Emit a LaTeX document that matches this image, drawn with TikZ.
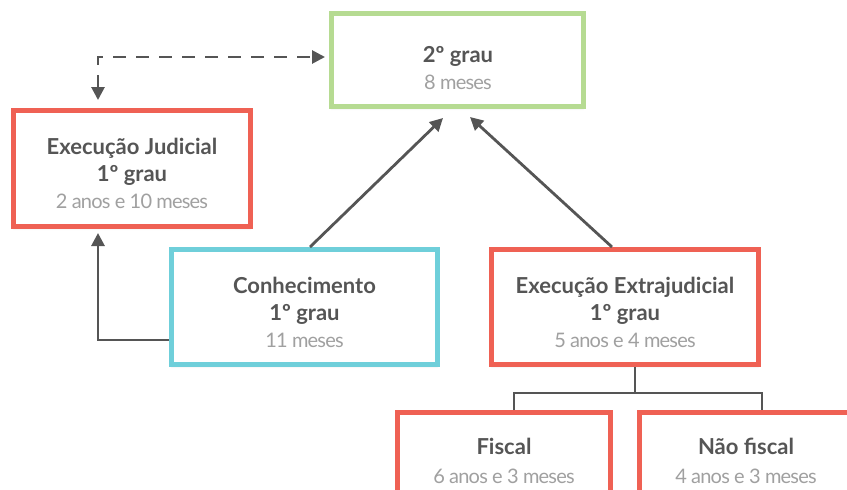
\documentclass[tikz,border=0pt]{standalone}
\usepackage{fontspec}
\setmainfont{Lato}
\newfontfamily\lightfont{Lato}[LetterSpace=-4]
\usetikzlibrary{arrows.meta,calc,shadows.blur}
\definecolor{cred}{HTML}{EF6154}
\definecolor{cgreen}{HTML}{B6DB92}
\definecolor{ccyan}{HTML}{6FCFDA}
\definecolor{ctext}{HTML}{555555}
\definecolor{clight}{HTML}{A0A0A0}
\definecolor{cline}{HTML}{555555}
\tikzset{
  box/.style={draw=#1, line width=5pt, fill=white, rectangle, inner sep=0pt,
    blur shadow={shadow xshift=0pt, shadow yshift=-2pt, shadow opacity=12, shadow blur steps=6}},
  txt/.style={align=center, text=ctext, font=\fontsize{22}{27}\selectfont\bfseries, inner sep=0pt},
  txtb/.style={txt, font=\fontsize{22}{29}\selectfont\bfseries},
  arr/.style={draw=cline, line width=2.8pt, -{Triangle[length=13pt,width=13pt]}},
  dasharr/.style={draw=cline, line width=2.8pt, dash pattern=on 13pt off 10pt, {Triangle[length=13pt,width=13pt]}-{Triangle[length=13pt,width=13pt]}},
  plain/.style={draw=cline, line width=2.8pt}
}
\newcommand{\lt}[1]{{\lightfont\mdseries\fontsize{20}{27}\selectfont\color{clight}#1}}
\begin{document}
\begin{tikzpicture}[x=1pt,y=-1pt]
\useasboundingbox (0,0) rectangle (847,490);
\begin{scope}
\clip (0,0) rectangle (847,490);
\node[box=cgreen, minimum width=252pt, minimum height=93pt] (g2) at (457.5,60) {};
\node[box=cred, minimum width=237pt, minimum height=116pt] (ej) at (132,168.5) {};
\node[box=ccyan, minimum width=266pt, minimum height=115pt] (co) at (304.5,307) {};
\node[box=cred, minimum width=267pt, minimum height=115pt] (ee) at (625,307) {};
\node[box=cred, minimum width=213pt, minimum height=115pt] (fi) at (504,470) {};
\node[box=cred, minimum width=213pt, minimum height=115pt] (nf) at (746,470) {};

\node[txt] (t1) at (458,68) {2º grau\\\lt{8 meses}};
\node[txt] (t2) at (132,173) {Execução Judicial\\1º grau\\\lt{2 anos e 10 meses}};
\node[txt] (t3) at (304.5,312) {Conhecimento\\1º grau\\\lt{11 meses}};
\node[txt] (t4) at (625,312) {Execução Extrajudicial\\1º grau\\\lt{5 anos e 4 meses}};
\node[txtb] (t5) at (504,461) {Fiscal\\\lt{6 anos e 3 meses}};
\node[txtb] (t6) at (746,461) {Não fiscal\\\lt{4 anos e 3 meses}};

\draw[dasharr] ([xshift=-34pt,yshift=8pt]ej.north) |- ([xshift=-4pt,yshift=3pt]g2.west);
\draw[arr] ([yshift=-33pt]co.west) -| ([xshift=-34pt,yshift=-4pt]ej.south);
\draw[arr] ([xshift=5.5pt]co.north) -- ([xshift=-14.5pt,yshift=-9pt]g2.south);
\draw[arr] ([xshift=-13pt]ee.north) -- ([xshift=12.5pt,yshift=-8pt]g2.south);
\coordinate (j) at ($(ee.south)+(10,26)$);
\draw[plain] ([xshift=10pt]ee.south) -- (j);
\draw[plain] ([xshift=10pt]fi.north) |- (j) -| ([xshift=16pt]nf.north);
\end{scope}
\end{tikzpicture}
\end{document}
